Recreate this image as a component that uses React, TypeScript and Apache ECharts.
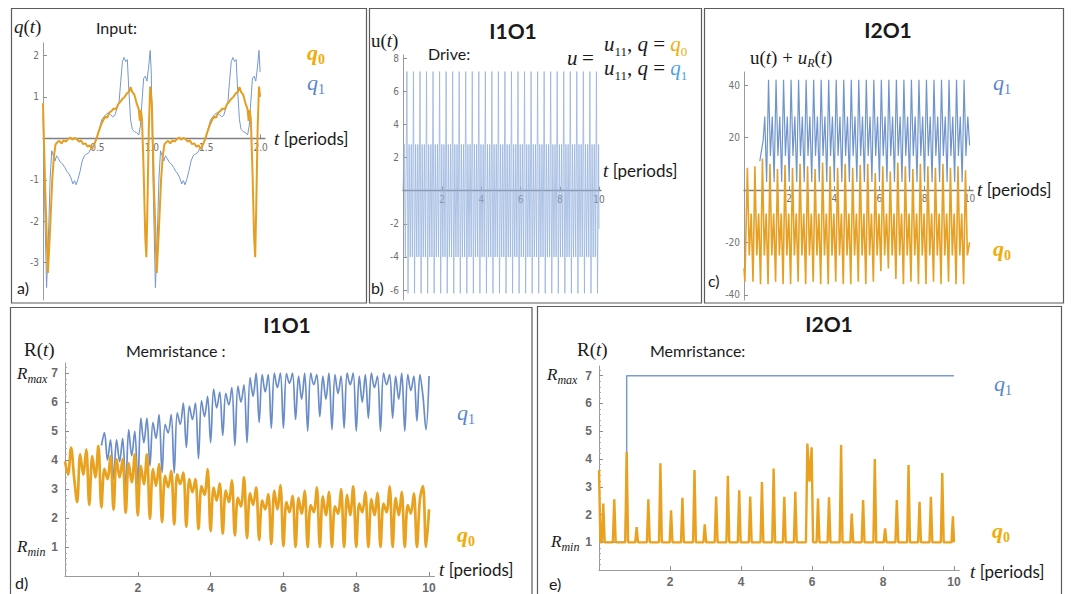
import React, { useEffect, useRef } from "react";
import * as echarts from "echarts";

const SERIF = "'Liberation Serif', 'DejaVu Serif', serif";
const SANS = "Lato, 'Open Sans', 'Liberation Sans', sans-serif";
const TICKF = "'Liberation Sans Narrow', 'DejaVu Sans Condensed', 'Liberation Sans', sans-serif";
const INK = "#1a1a1a";
const GOLD = "#efad08";
const LBL_BLUE = "#5a86c8";
const SKY = "#4ea2e4";

// ---------------- (a) input q(t): one period (plot shows two identical periods)
const aPeriodStarts = [0, 1];
const aQ0Period: number[][] = [
  [0, 0.85], [0.02, -1.2], [0.045, -3.25], [0.065, -2.2], [0.085, -1.0], [0.1, -0.45], [0.115, -0.15],
  [0.13, -0.1], [0.15, -0.06], [0.17, -0.12], [0.19, -0.05], [0.21, -0.08], [0.23, -0.02], [0.25, 0.02],
  [0.27, -0.03], [0.29, 0.01], [0.31, -0.02], [0.33, -0.08], [0.35, -0.05], [0.37, -0.14], [0.39, -0.12],
  [0.41, -0.2], [0.43, -0.17], [0.45, -0.26], [0.47, -0.15], [0.49, -0.02], [0.51, 0.15], [0.53, 0.3],
  [0.55, 0.42], [0.57, 0.52], [0.59, 0.5], [0.61, 0.62], [0.63, 0.66], [0.65, 0.72], [0.67, 0.7],
  [0.69, 0.82], [0.71, 0.88], [0.73, 0.95], [0.75, 1.0], [0.77, 1.08], [0.79, 1.12], [0.805, 1.24],
  [0.82, 1.12], [0.84, 1.05], [0.86, 0.85], [0.88, 0.7], [0.89, 0.42], [0.9, 0.68], [0.91, 0.45],
  [0.925, -0.8], [0.94, -2.4], [0.95, -2.87], [0.96, -1.6], [0.972, 0.2], [0.985, 1.25], [0.995, 1.0],
];
const aQ1Period: number[][] = [
  [0, 0.6], [0.015, -1.5], [0.033, -3.6], [0.05, -2.4], [0.065, -1.0], [0.08, -0.3], [0.095, -0.42],
  [0.11, -0.55], [0.125, -0.42], [0.14, -0.48], [0.16, -0.58], [0.18, -0.62], [0.2, -0.7], [0.22, -0.8],
  [0.24, -0.86], [0.26, -0.98], [0.275, -1.1], [0.29, -1.02], [0.305, -1.12], [0.32, -1.0], [0.34, -0.8],
  [0.36, -0.55], [0.38, -0.42], [0.4, -0.38], [0.42, -0.35], [0.44, -0.25], [0.46, -0.2], [0.48, -0.08],
  [0.5, 0.05], [0.52, 0.25], [0.54, 0.45], [0.56, 0.52], [0.58, 0.58], [0.6, 0.62], [0.62, 0.58],
  [0.64, 0.52], [0.66, 0.55], [0.68, 0.72], [0.7, 0.9], [0.715, 1.4], [0.73, 1.85], [0.745, 1.95],
  [0.76, 1.85], [0.775, 1.9], [0.79, 1.1], [0.805, 0.45], [0.82, 0.22], [0.84, 0.16], [0.86, 0.14],
  [0.88, 0.08], [0.895, 0.3], [0.91, 0.9], [0.925, 1.45], [0.94, 1.5], [0.955, 1.38], [0.97, 1.7],
  [0.985, 2.12], [0.995, 1.6],
];
const aXLabels = [0.5, 1.0, 1.5, 2.0];
const aYLabels = [-3, -2, -1, 1, 2];

// ---------------- (b) drive u(t), I1O1: constant repeating waveform, 3 cycles per period
const bLead: number[][] = [[0, 0], [0.06, 2.8], [0.12, -4.0]];
const bCycleStart = 0.2;
const bCycleLength = 1 / 3;
const bCycleValues = [7.2, -6.2, 2.8, -4.0, 2.8, -4.0];
const bEnd = [10, -2.3];
const bYLabels = [-6, -4, -2, 2, 4, 6, 8];
const tLabels = [2, 4, 6, 8, 10];

// ---------------- (c) u(t)+uR(t), I2O1
const cBlueLead: number[][] = [[0.7, 11], [0.85, 19]];
const cBlueStart = 0.92;
const cBlueCycle = [28, 3, 42, 13];
const cBlueEnd = [10, 17];
const cOrangeLead: number[][] = [[0, -30], [0.04, -35]];
const cOrangeStart = 0.15;
const cOrangePeaks = [8.5, 9, 12, 10, 8, 9.5, 8.5, 10, 9, 8, 10.5, 9, 8.5, 10, 8.5, 9.5, 10, 6.5, 9, 7, 10.5, 9, 8, 10, 9, 8.5, 10, 8.5, 9, 7.5];
const cOrangeMid = [-25, -9];
const cOrangeLows = [-35, -36, -36, -35, -36, -36, -35, -36, -35, -36, -36, -35, -36, -36, -35, -36, -35, -31, -30, -34, -36, -35, -36, -36, -35, -36, -35, -36, -36, -35];
const cOrangeEnd = [10, -20];
const cYLabels = [-40, -20, 20, 40];

// ---------------- (d) memristance I1O1, turning points every 1/12 period
const dStep = 1 / 12;
const dOrange = [
  3.95, 3.5, 4.43, 3.4, 2.55,
  4.2, 3.5, 4.37, 2.45, 4.14, 3.4, 4.49, 2.37, 3.7, 3.34, 4.14, 2.28, 4.03, 3.4, 4.03, 2.18,
  3.9, 3.23, 4.2, 2.09, 3.8, 3.17, 4.2, 1.97, 3.69, 3.11, 3.86, 1.86, 3.46, 3.06, 3.63, 1.78,
  3.51, 3.17, 3.57, 1.7, 3.34, 2.89, 3.34, 1.62, 3.1, 2.8, 3.69, 1.55, 3.05, 2.6, 3.2, 1.46,
  2.95, 2.55, 3.3, 1.4, 2.7, 2.4, 3.4, 1.31, 2.85, 2.45, 3.06, 1.25, 2.6, 2.3, 2.83, 1.1,
  2.95, 2.3, 3.14, 1.03, 2.55, 2.2, 2.77, 1.0, 2.7, 2.15, 2.94, 1.0, 2.45, 2.2, 3.06, 1.0,
  2.75, 2.1, 2.9, 1.0, 2.4, 2.15, 3.0, 1.0, 2.8, 2.1, 3.09, 1.0, 2.5, 2.2, 2.9, 1.0,
  2.65, 2.1, 2.87, 1.0, 2.5, 2.2, 3.09, 1.0, 2.7, 2.1, 2.9, 1.0, 2.45, 2.15, 2.85, 1.0,
  2.65, 3.1, 1.0, 2.3,
];
const dBlueStartT = 1;
const dBlue = [
  4.5,
  4.95, 4.0, 4.7, 3.35, 4.7, 3.95, 4.75, 3.0, 5.05, 4.15, 5.0, 3.15, 5.45, 4.6, 5.45, 3.8,
  5.3, 4.75, 5.57, 3.57, 5.23, 4.94, 5.57, 3.55, 5.63, 5.23, 5.97, 4.43, 5.86, 5.4, 5.97, 4.05,
  6.05, 5.5, 6.2, 4.6, 6.45, 5.8, 6.35, 4.85, 6.3, 5.9, 6.5, 4.5, 6.55, 6.0, 6.6, 4.6,
  6.85, 6.2, 7.0, 5.3, 6.95, 6.35, 6.95, 5.1, 7.0, 6.5, 7.0, 5.1, 6.98, 6.65, 7.0, 5.4,
  6.9, 6.1, 7.0, 5.0, 7.0, 6.6, 6.95, 5.5, 6.9, 6.1, 7.0, 5.05, 6.95, 6.3, 6.9, 5.1,
  7.0, 6.6, 7.0, 5.0, 6.9, 6.0, 6.95, 5.45, 7.0, 6.5, 6.9, 5.0, 7.0, 6.6, 6.95, 5.45,
  6.9, 6.1, 7.0, 5.0, 6.95, 6.4, 6.9, 5.35, 6.95, 6.2, 5.05, 6.9,
];
const rLabels = [1, 2, 3, 4, 5, 6, 7];

// ---------------- (e) memristance I2O1: spikes from R_min
const eBase = 1;
const eSpikeT = [0.0, 0.12, 0.43, 0.78, 1.06, 1.39, 1.73, 2.03, 2.35, 2.69, 2.98, 3.3, 3.63, 3.95, 4.26, 4.59, 4.92, 5.22, 5.53, 5.87, 5.93, 5.99, 6.17, 6.48, 6.82, 7.12, 7.44, 7.77, 8.06, 8.39, 8.72, 9.03, 9.35, 9.67, 9.97];
const eSpikeH = [3.6, 2.4, 2.55, 4.25, 1.55, 2.55, 3.85, 2.15, 2.6, 3.6, 1.65, 2.65, 3.4, 2.87, 2.65, 3.17, 3.66, 2.64, 2.82, 4.56, 3.18, 4.42, 2.58, 2.62, 4.5, 2.04, 2.52, 4.0, 1.5, 2.52, 3.78, 2.46, 2.64, 3.5, 1.94];
const eBlue: number[][] = [[0, 1], [0.74, 1], [0.78, 4.25], [0.78, 7], [10, 7]];

// ---------------- build series data
function buildA(period: number[][]) {
  const out: number[][] = [];
  aPeriodStarts.forEach((p) => period.forEach(([t, v]) => out.push([t + p, v])));
  return out;
}
function buildB() {
  const out = bLead.map((p) => [...p]);
  const n = bCycleValues.length;
  for (let k = 0; ; k++) {
    const t = bCycleStart + (k * bCycleLength) / n;
    if (t > 9.98) break;
    out.push([t, bCycleValues[k % n]]);
  }
  out.push(bEnd);
  return out;
}
function buildCBlue() {
  const out = cBlueLead.map((p) => [...p]);
  for (let j = 0; ; j++) {
    const t = cBlueStart + j / 12;
    if (t > 9.95) break;
    out.push([t, cBlueCycle[j % cBlueCycle.length]]);
  }
  out.push(cBlueEnd);
  return out;
}
function buildCOrange() {
  const out = cOrangeLead.map((p) => [...p]);
  cOrangePeaks.forEach((pk, i) => {
    const b = cOrangeStart + i / 3;
    const pts = [[b, pk], [b + 1 / 12, cOrangeMid[0]], [b + 2 / 12, cOrangeMid[1]], [b + 3 / 12, cOrangeLows[i]]];
    pts.forEach((p) => { if (p[0] < 9.97) out.push(p); });
  });
  out.push(cOrangeEnd);
  return out;
}
function buildD(vals: number[], t0: number) {
  return vals.map((v, k) => [t0 + k * dStep, v]);
}
function buildE() {
  const w = 0.04;
  const out: number[][] = [];
  eSpikeT.forEach((t, i) => {
    const prev = i > 0 ? eSpikeT[i - 1] : -1;
    const next = i < eSpikeT.length - 1 ? eSpikeT[i + 1] : 99;
    if (t - w >= 0 && t - prev > 2 * w) out.push([t - w, eBase]);
    out.push([t, eSpikeH[i]]);
    if (next - t > 2 * w) out.push([Math.min(t + w, 10), eBase]);
  });
  out.push([10, eBase]);
  return out;
}

// ---------------- grids and axes
const GRIDS = [
  { left: 43, top: 43, width: 222, height: 257 },
  { left: 403, top: 55, width: 198, height: 245 },
  { left: 744, top: 72, width: 229, height: 228 },
  { left: 65, top: 363, width: 369.5, height: 214.5 },
  { left: 599, top: 366, width: 360.3, height: 204.1 },
];
const Y_RANGES = [[-3.9, 2.3], [-6.6, 8.2], [-42, 45], [0, 7.35], [0, 7.35]];

function xAx(gridIndex: number, max: number, labels: number[], big: boolean, fmt?: (v: number) => string) {
  const [ymin, ymax] = Y_RANGES[gridIndex];
  const h = GRIDS[gridIndex].height;
  const offset = ymin < 0 ? -(h * (0 - ymin)) / (ymax - ymin) : 0;
  return {
    type: "value", gridIndex, min: 0, max, position: "bottom", offset,
    axisLine: { show: true, onZero: false, lineStyle: { color: big ? "#9a9a9a" : "#7f7f7f", width: big ? 1 : 1.3 } },
    axisTick: { show: true, inside: true, length: 4, customValues: labels, lineStyle: { color: "#8c8c8c" } },
    axisLabel: {
      show: true, customValues: labels, margin: big ? 6 : 4, color: big ? "#6a6a6a" : "#707070",
      fontSize: big ? 12 : 10, fontWeight: big ? "bold" : "normal", fontFamily: big ? "'Liberation Sans', sans-serif" : TICKF,
      formatter: fmt || ((v: number) => String(v)),
    },
    splitLine: { show: false },
  };
}
function yAx(gridIndex: number, labels: number[], big: boolean) {
  const [min, max] = Y_RANGES[gridIndex];
  const ax: any = {
    type: "value", gridIndex, min, max,
    axisLine: { show: true, onZero: false, lineStyle: { color: "#9a9a9a", width: 1 } },
    axisTick: { show: true, inside: true, length: 4, customValues: labels, lineStyle: { color: "#8c8c8c" } },
    axisLabel: {
      show: true, customValues: labels, margin: big ? 7 : 4, color: big ? "#6a6a6a" : "#707070",
      fontSize: big ? 12 : 10, fontWeight: big ? "bold" : "normal", fontFamily: big ? "'Liberation Sans', sans-serif" : TICKF,
      formatter: (v: number) => String(v),
    },
    splitLine: { show: false },
  };
  if (big) {
    ax.interval = 1;
    ax.minorTick = { show: true, splitNumber: 5, length: 2, lineStyle: { color: "#aaaaaa" } };
  }
  return ax;
}

// ---------------- text helpers
const baseStyle = { align: "left", verticalAlign: "middle", textAlign: "left", textVerticalAlign: "middle" };
function rt(x: number, y: number, text: string, rich: any) {
  return { type: "text", x, y, silent: true, z: 10, style: { ...baseStyle, text, rich, fill: INK, font: `18px ${SERIF}` } };
}
function pt(x: number, y: number, text: string, font: string, center = false) {
  const al = center ? { align: "center", textAlign: "center" } : {};
  return { type: "text", x, y, silent: true, z: 10, style: { ...baseStyle, ...al, text, font, fill: INK } };
}
const RICH: any = {
  n: { fontFamily: SERIF, fontSize: 19, fill: INK, lineHeight: 24 },
  i: { fontFamily: SERIF, fontStyle: "italic", fontSize: 19, fill: INK, lineHeight: 24 },
  s: { fontFamily: SERIF, fontSize: 12, fill: INK, verticalAlign: "bottom", lineHeight: 13 },
  si: { fontFamily: SERIF, fontStyle: "italic", fontSize: 12, fill: INK, verticalAlign: "bottom", lineHeight: 12 },
  R: { fontFamily: SERIF, fontStyle: "italic", fontSize: 17, fill: INK, lineHeight: 24 },
  p: { fontFamily: SANS, fontSize: 17, fill: INK, lineHeight: 24 },
  F: { fontFamily: SERIF, fontSize: 21, fill: INK, lineHeight: 28 },
  Fi: { fontFamily: SERIF, fontStyle: "italic", fontSize: 21, fill: INK, lineHeight: 28 },
  Fs: { fontFamily: SERIF, fontSize: 13, fill: INK, verticalAlign: "bottom", lineHeight: 13 },
  Fg: { fontFamily: SERIF, fontStyle: "italic", fontSize: 21, fill: GOLD, lineHeight: 28 },
  Fgs: { fontFamily: SERIF, fontSize: 13, fill: GOLD, verticalAlign: "bottom", lineHeight: 13 },
  Fb: { fontFamily: SERIF, fontStyle: "italic", fontSize: 21, fill: SKY, lineHeight: 28 },
  Fbs: { fontFamily: SERIF, fontSize: 13, fill: SKY, verticalAlign: "bottom", lineHeight: 13 },
  q0: { fontFamily: SERIF, fontStyle: "italic", fontWeight: "bold", fontSize: 22, fill: GOLD, lineHeight: 28 },
  q0s: { fontFamily: SERIF, fontWeight: "bold", fontSize: 14, fill: GOLD, verticalAlign: "bottom", lineHeight: 13 },
  q1: { fontFamily: SERIF, fontStyle: "italic", fontSize: 22, fill: LBL_BLUE, lineHeight: 28 },
  q1s: { fontFamily: SERIF, fontSize: 14, fill: LBL_BLUE, verticalAlign: "bottom", lineHeight: 13 },
};
const Q0 = "{q0|q}{q0s|0}";
const Q1 = "{q1|q}{q1s|1}";
const TPER = "{i|t} {p|[periods]}";
const RMAX = "{R|R}{si|max}";
const RMIN = "{R|R}{si|min}";
const LBL = `16px ${SANS}`;
const TITLE = `bold 21px ${SANS}`;

function frame(x: number, y: number, w: number, h: number) {
  return { type: "rect", silent: true, z: 5, shape: { x, y, width: w, height: h }, style: { fill: "none", stroke: "#5c5c5c", lineWidth: 1.2 } };
}

function buildOption() {
  const line = (xi: number, data: number[][], color: string, width: number, smooth: number | boolean = false) => ({
    type: "line", xAxisIndex: xi, yAxisIndex: xi, data, showSymbol: false, symbol: "none", smooth,
    lineStyle: { color, width }, silent: true, z: 2, clip: true,
  });
  return {
    animation: false,
    backgroundColor: "#ffffff",
    grid: GRIDS,
    xAxis: [
      xAx(0, 2.04, aXLabels, false, (v: number) => v.toFixed(1)),
      xAx(1, 10.1, tLabels, false),
      xAx(2, 10.15, tLabels, false),
      xAx(3, 10.15, tLabels, true),
      xAx(4, 10.15, tLabels, true),
    ],
    yAxis: [
      yAx(0, aYLabels, false),
      yAx(1, bYLabels, false),
      yAx(2, cYLabels, false),
      yAx(3, rLabels, true),
      yAx(4, rLabels, true),
    ],
    series: [
      line(0, buildA(aQ1Period), "#7399d0", 1),
      line(0, buildA(aQ0Period), "#e49f22", 2),
      line(1, buildB(), "#93b0dc", 0.75),
      line(2, buildCOrange(), "#e6a124", 1.6),
      line(2, buildCBlue(), "#7095cc", 1.2),
      line(3, buildD(dBlue, dBlueStartT), "#6a8dc7", 1.7, 0.35),
      line(3, buildD(dOrange, 0), "#e8a21f", 2.7, 0.35),
      line(4, eBlue, "#7b9cd1", 1.5),
      line(4, buildE(), "#e8a21f", 2.4),
    ],
    graphic: [
      frame(11.5, 8.5, 355, 294.5),
      frame(369.5, 8.5, 332, 294.5),
      frame(704.5, 8.5, 359, 294.5),
      frame(10.5, 307.5, 521.5, 300),
      frame(537.5, 306.5, 524, 300),
      // (a)
      rt(14, 26, "{i|q}{n|(}{i|t}{n|)}", RICH),
      pt(96, 27, "Input:", LBL),
      rt(307, 52, Q0, RICH),
      rt(307, 82, Q1, RICH),
      rt(274, 138, TPER, RICH),
      pt(17, 287, "a)", LBL),
      // (b)
      pt(513, 30, "I1O1", TITLE, true),
      rt(371, 40, "{n|u(}{i|t}{n|)}", RICH),
      pt(428, 53, "Drive:", LBL),
      rt(567, 58, "{Fi|u} {F|=}", RICH),
      rt(604, 44, "{Fi|u}{Fs|11}{F|, }{Fi|q}{F| = }{Fg|q}{Fgs|0}", RICH),
      rt(604, 68, "{Fi|u}{Fs|11}{F|, }{Fi|q}{F| = }{Fb|q}{Fbs|1}", RICH),
      rt(603, 170, TPER, RICH),
      pt(371, 287, "b)", LBL),
      // (c)
      pt(888, 29, "I2O1", TITLE, true),
      rt(750, 57, "{n|u(}{i|t}{n|) + }{i|u}{si|R}{n|(}{i|t}{n|)}", RICH),
      rt(993, 82, Q1, RICH),
      rt(993, 248, Q0, RICH),
      rt(977, 189, TPER, RICH),
      pt(708, 280, "c)", LBL),
      // (d)
      pt(287, 324, "I1O1", TITLE, true),
      rt(24, 349, "{n|R(}{i|t}{n|)}", RICH),
      pt(126, 350, "Memristance :", LBL),
      rt(17, 373, RMAX, RICH),
      rt(17, 546, RMIN, RICH),
      rt(457, 412, Q1, RICH),
      rt(457, 534, Q0, RICH),
      rt(439, 569, TPER, RICH),
      pt(15, 582, "d)", LBL),
      // (e)
      pt(829, 323, "I2O1", TITLE, true),
      rt(577, 349, "{n|R(}{i|t}{n|)}", RICH),
      pt(650, 350, "Memristance:", LBL),
      rt(547, 374, RMAX, RICH),
      rt(551, 541, RMIN, RICH),
      rt(994, 383, Q1, RICH),
      rt(992, 530, Q0, RICH),
      rt(970, 571, TPER, RICH),
      pt(549, 583, "e)", LBL),
    ],
  };
}

export default function App() {
  const ref = useRef<HTMLDivElement>(null);
  useEffect(() => {
    if (!ref.current) return;
    const chart = echarts.init(ref.current, undefined, { renderer: "svg" });
    chart.setOption(buildOption() as any);
    return () => chart.dispose();
  }, []);
  return (
    <div
      ref={ref}
      style={{ position: "fixed", left: 0, top: 0, width: 1073, height: 594, background: "#ffffff" }}
    />
  );
}
